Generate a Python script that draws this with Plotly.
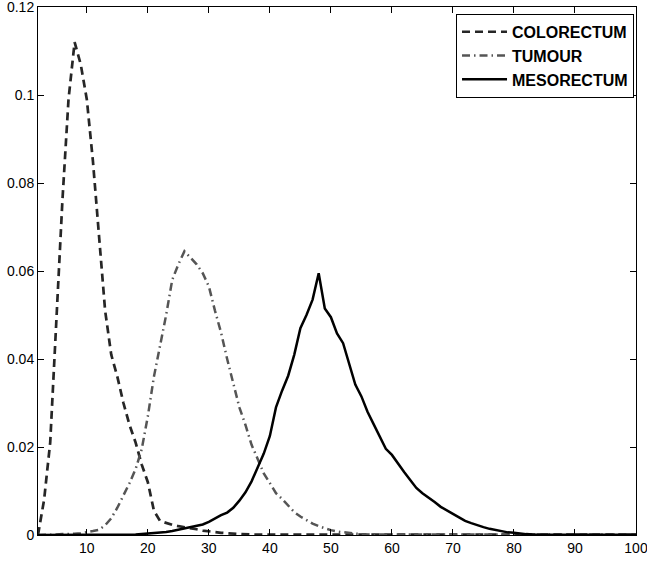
import plotly.graph_objects as go

x_vals = list(range(2, 101))

colorectum = [0.0, 0.008, 0.021, 0.048, 0.076, 0.099, 0.112, 0.107, 0.099, 0.085,
              0.067, 0.051, 0.041, 0.036, 0.030, 0.025, 0.021, 0.016, 0.012, 0.0055,
              0.0032, 0.0027, 0.0023, 0.002, 0.0018, 0.0016, 0.0013, 0.001, 0.0008, 0.0006,
              0.0005, 0.0004, 0.0003, 0.0002] + [0.0001] * 65

tumour = [0.0, 0.0, 0.0001, 0.0001, 0.0002, 0.0002, 0.0003, 0.0004, 0.0006, 0.0009,
          0.0012, 0.0022, 0.0038, 0.0062, 0.0090, 0.0118, 0.015, 0.0195, 0.027, 0.036,
          0.043, 0.050, 0.058, 0.0615, 0.0645, 0.063, 0.0615, 0.0595, 0.0565, 0.051,
          0.046, 0.040, 0.0345, 0.029, 0.025, 0.0205, 0.0173, 0.014, 0.0118, 0.0095,
          0.0082, 0.0068, 0.0052, 0.0042, 0.0033, 0.0026, 0.0020, 0.0015, 0.0011, 0.0008,
          0.0006, 0.0004, 0.0003, 0.0002] + [0.0001] * 45

mesorectum = [0.0] * 16 + [0.0001, 0.0002, 0.0003, 0.0005, 0.0006, 0.0007, 0.0009,
              0.0012, 0.0015, 0.0018, 0.0021, 0.0024, 0.003, 0.0038, 0.0045, 0.0051,
              0.0062, 0.0078, 0.0097, 0.0122, 0.0155, 0.0185, 0.0225, 0.029, 0.0328,
              0.0362, 0.041, 0.047, 0.050, 0.0535, 0.0595, 0.0515, 0.0495, 0.0458, 0.0436,
              0.039, 0.0342, 0.0315, 0.028, 0.0252, 0.0225, 0.0196, 0.0182, 0.0162, 0.0143,
              0.0125, 0.0107, 0.0095, 0.0086, 0.0075, 0.0064, 0.0055, 0.0048, 0.004, 0.0032,
              0.0027, 0.0022, 0.0018, 0.0014, 0.0011, 0.0008, 0.0006, 0.0005, 0.0003, 0.0002,
              0.0001] + [0.00005] * 17

x_ticks = [10, 20, 30, 40, 50, 60, 70, 80, 90, 100]
y_ticks = [0, 0.02, 0.04, 0.06, 0.08, 0.1, 0.12]
y_ticktext = ["0", "0.02", "0.04", "0.06", "0.08", "0.1", "0.12"]

fig = go.Figure()
fig.add_trace(go.Scatter(x=x_vals, y=colorectum, mode="lines", name="COLORECTUM",
                         line=dict(color="#262626", width=2.7, dash="8px,5px")))
fig.add_trace(go.Scatter(x=x_vals, y=tumour, mode="lines", name="TUMOUR",
                         line=dict(color="#555555", width=2.5, dash="8px,4px,1.5px,4px")))
fig.add_trace(go.Scatter(x=x_vals, y=mesorectum, mode="lines", name="MESORECTUM",
                         line=dict(color="#000000", width=2.5)))

axis_common = dict(showline=True, linecolor="black", linewidth=1, mirror="ticks",
                   ticks="inside", ticklen=6, tickcolor="black", showgrid=False,
                   zeroline=False, automargin=False, ticklabeloverflow="allow",
                   tickfont=dict(family="Liberation Sans, Arial", size=14, color="black"))

fig.update_layout(
    width=647, height=561,
    margin=dict(l=38, r=11, t=7, b=26),
    plot_bgcolor="white", paper_bgcolor="white",
    xaxis=dict(range=[2, 100.0001], tickvals=x_ticks, **axis_common),
    yaxis=dict(range=[0, 0.120001], tickvals=y_ticks, ticktext=y_ticktext, **axis_common),
    legend=dict(x=0.9967, y=0.987, xanchor="right", yanchor="top",
                bgcolor="white", bordercolor="black", borderwidth=1, itemwidth=45,
                font=dict(family="Liberation Sans, Arial", size=16, color="black", weight="bold"),
                tracegroupgap=0),
    showlegend=True,
)
fig.write_html("out.html", post_script="document.body.style.margin='0px';",
               config={"displayModeBar": False})
